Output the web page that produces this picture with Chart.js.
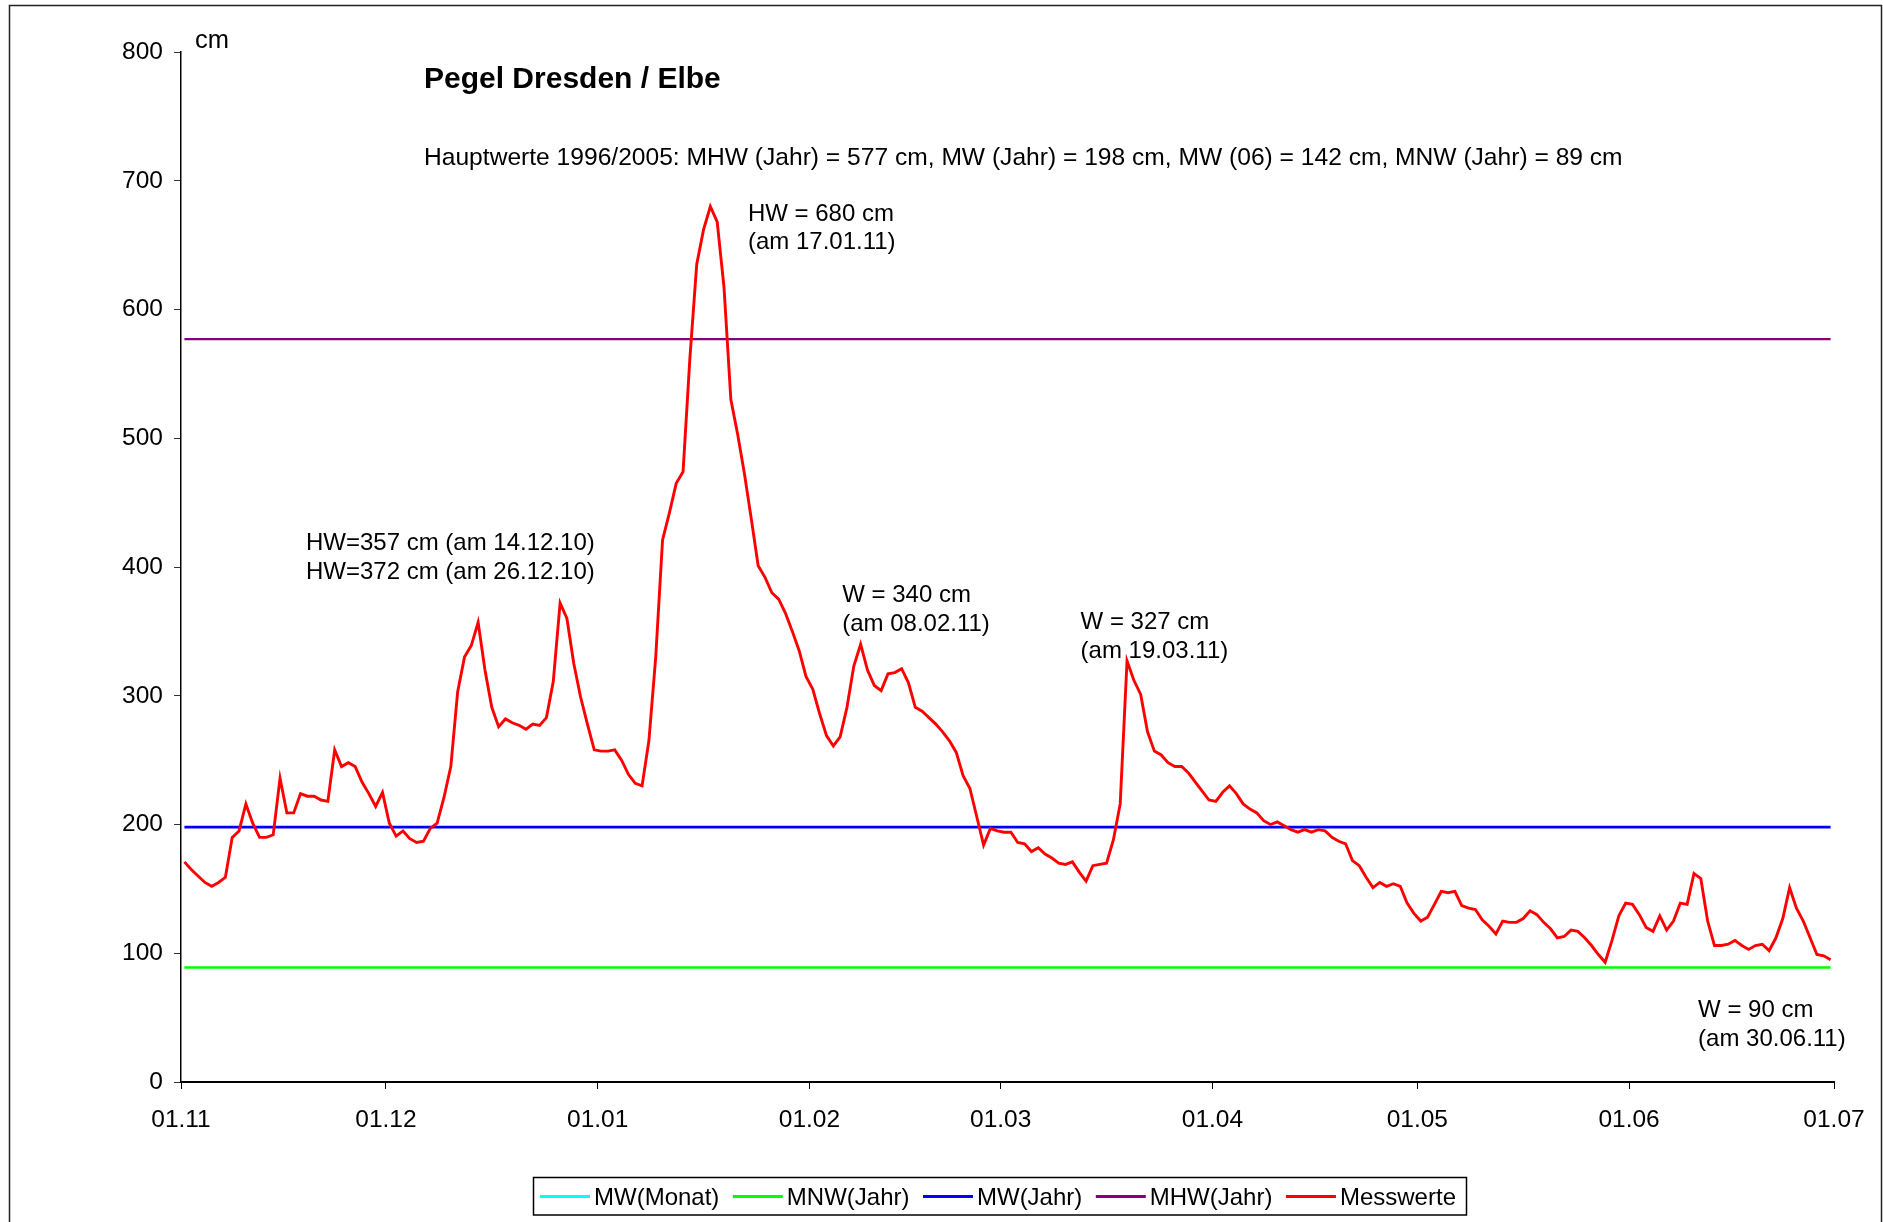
<!DOCTYPE html>
<html>
<head>
<meta charset="utf-8">
<script src="https://cdn.jsdelivr.net/npm/chart.js@4.4.1/dist/chart.umd.min.js"></script>
<style>
  html, body { margin: 0; padding: 0; background: #fff; }
  #wrap { width: 1883px; height: 1222px; position: relative; }
</style>
</head>
<body>
<div id="wrap"><canvas id="pegelchart"></canvas></div>
<script>
// x axis: days since 01.11.2010, ticks at the first of each month
const monthStarts = [0, 30, 61, 92, 120, 151, 181, 212, 242];
const monthLabels = ['01.11', '01.12', '01.01', '01.02', '01.03', '01.04', '01.05', '01.06', '01.07'];
const yTicks = [0, 100, 200, 300, 400, 500, 600, 700, 800];

// daily water level Dresden (cm), 01.11.2010 .. 30.06.2011
const pegelOffset = 0.5;
const pegel = [
    171, 165, 160, 155, 152, 155, 159, 190, 195, 216,
    201, 190, 190, 192, 236, 209, 209, 224, 222, 222,
    219, 218, 258, 245, 248, 245, 233, 224, 214, 225,
    201, 191, 195, 189, 186, 187, 197, 201, 221, 245,
    303, 330, 339, 357, 320, 291, 276, 282, 279, 277,
    274, 278, 277, 283, 311, 372, 360, 325, 299, 278,
    258, 257, 257, 258, 250, 239, 232, 230, 265, 330,
    421, 442, 465, 474, 562, 635, 662, 680, 668, 617,
    530, 503, 472, 437, 401, 392, 380, 375, 364, 350,
    335, 315, 305, 286, 269, 261, 268, 291, 323, 340,
    320, 308, 304, 317, 318, 321, 310, 291, 288, 283,
    278, 272, 265, 256, 238, 228, 206, 184, 197, 195,
    194, 194, 186, 185, 179, 182, 177, 174, 170, 169,
    171, 163, 156, 168, 169, 170, 188, 216, 327, 312,
    301, 272, 257, 254, 248, 245, 245, 240, 233, 226,
    219, 218, 225, 230, 224, 216, 212, 209, 203, 200,
    202, 199, 196, 194, 196, 194, 196, 195, 190, 187,
    185, 172, 168, 159, 151, 155, 152, 154, 152, 139,
    131, 125, 128, 138, 148, 147, 148, 137, 135, 134,
    126, 121, 115, 125, 124, 124, 127, 133, 130, 124,
    119, 112, 113, 118, 117, 112, 106, 99, 93, 110,
    129, 139, 138, 130, 120, 117, 129, 118, 125, 139,
    138, 162, 158, 125, 106, 106, 107, 110, 106, 103,
    106, 107, 102, 112, 127, 151, 135, 125, 112, 99,
    98, 95
];

// Hauptwerte 1996/2005
const mhwJahr = 577;
const mwJahr = 198;
const mnwJahr = 89;

// text notes, anchored at (day, cm) of their first baseline
const noteText = [
    ['HW=357 cm (am 14.12.10)', 'HW=372 cm (am 26.12.10)'],
    ['HW = 680 cm', '(am 17.01.11)'],
    ['W = 340 cm', '(am 08.02.11)'],
    ['W = 327 cm', '(am 19.03.11)'],
    ['W = 90 cm', '(am 30.06.11)']
];
const noteDay = [18.3, 83.0, 96.8, 131.7, 222.1];
const noteLevel = [413, 669, 373, 352, 50.7];

const FONT = '"Liberation Sans", Arial, sans-serif';
const first = pegelOffset, last = pegelOffset + pegel.length - 1;
const flat = (v) => [{ x: first, y: v }, { x: last, y: v }];

const textPlugin = {
    id: 'textPlugin',
    afterDraw: (chart) => {
        const { ctx, scales: { x, y } } = chart;
        ctx.save();
        ctx.fillStyle = '#000';
        ctx.textBaseline = 'alphabetic';
        ctx.textAlign = 'left';

        ctx.font = 'bold 30px ' + FONT;
        ctx.fillText('Pegel Dresden / Elbe', 424, 88);
        ctx.font = '24.6px ' + FONT;
        ctx.fillText('Hauptwerte 1996/2005: MHW (Jahr) = 577 cm, MW (Jahr) = 198 cm, MW (06) = 142 cm, MNW (Jahr) = 89 cm', 424, 165);
        ctx.font = '25.5px ' + FONT;
        ctx.fillText('cm', 195, 48);

        ctx.font = '24px ' + FONT;
        noteText.forEach((lines, i) => {
            const px = x.getPixelForValue(noteDay[i]);
            const py = y.getPixelForValue(noteLevel[i]);
            lines.forEach((t, j) => ctx.fillText(t, px, py + j * 28.8));
        });

        // legend in a box
        ctx.lineWidth = 1.5;
        ctx.strokeStyle = '#000';
        ctx.strokeRect(533.5, 1177.5, 933, 37.5);
        let lx = 540;
        chart.data.datasets.forEach((ds) => {
            ctx.strokeStyle = ds.borderColor;
            ctx.lineWidth = 3;
            ctx.beginPath();
            ctx.moveTo(lx, 1196.5);
            ctx.lineTo(lx + 50, 1196.5);
            ctx.stroke();
            ctx.fillText(ds.label, lx + 54, 1205);
            lx += 54 + ctx.measureText(ds.label).width + 13.5;
        });

        // outer frame
        ctx.strokeStyle = '#222';
        ctx.lineWidth = 1.5;
        ctx.strokeRect(9.5, 5.5, 1872, 1240);
        ctx.restore();
    }
};

new Chart(document.getElementById('pegelchart'), {
    type: 'line',
    data: {
        datasets: [
            { label: 'MW(Monat)', data: [], borderColor: '#00ffff', borderWidth: 2.5, order: 1 },
            { label: 'MNW(Jahr)', data: flat(mnwJahr), borderColor: '#00ff00', borderWidth: 2.5, order: 1 },
            { label: 'MW(Jahr)', data: flat(mwJahr), borderColor: '#0000ff', borderWidth: 2.6, order: 1 },
            { label: 'MHW(Jahr)', data: flat(mhwJahr), borderColor: '#800080', borderWidth: 2.2, order: 1 },
            { label: 'Messwerte', data: pegel.map((v, i) => ({ x: i + pegelOffset, y: v })), borderColor: '#ff0000', borderWidth: 2.9, order: 0 }
        ]
    },
    options: {
        responsive: true,
        maintainAspectRatio: false,
        animation: false,
        layout: { padding: { top: 52, left: 0, right: 49, bottom: 0 } },
        elements: { point: { radius: 0 }, line: { tension: 0 } },
        scales: {
            x: {
                type: 'linear',
                min: 0,
                max: 242,
                afterBuildTicks: (s) => { s.ticks = monthStarts.map(v => ({ value: v })); },
                afterFit: (s) => { s.height = 140; },
                grid: { drawOnChartArea: false, drawTicks: true, tickLength: 7, color: '#000' },
                border: { display: true, color: '#000', width: 2 },
                ticks: {
                    autoSkip: false, maxRotation: 0, color: '#000', padding: 17,
                    font: { family: FONT, size: 24.5 },
                    callback: (v, i) => monthLabels[i]
                }
            },
            y: {
                min: 0,
                max: 800,
                afterBuildTicks: (s) => { s.ticks = yTicks.map(v => ({ value: v })); },
                afterFit: (s) => { s.width = 181; },
                grid: { drawOnChartArea: false, drawTicks: true, tickLength: 7, color: '#333' },
                border: { display: true, color: '#000', width: 1.5 },
                ticks: { color: '#000', padding: 11, font: { family: FONT, size: 24.5 } }
            }
        },
        plugins: {
            legend: { display: false },
            tooltip: { enabled: false }
        }
    },
    plugins: [textPlugin]
});
</script>
</body>
</html>
